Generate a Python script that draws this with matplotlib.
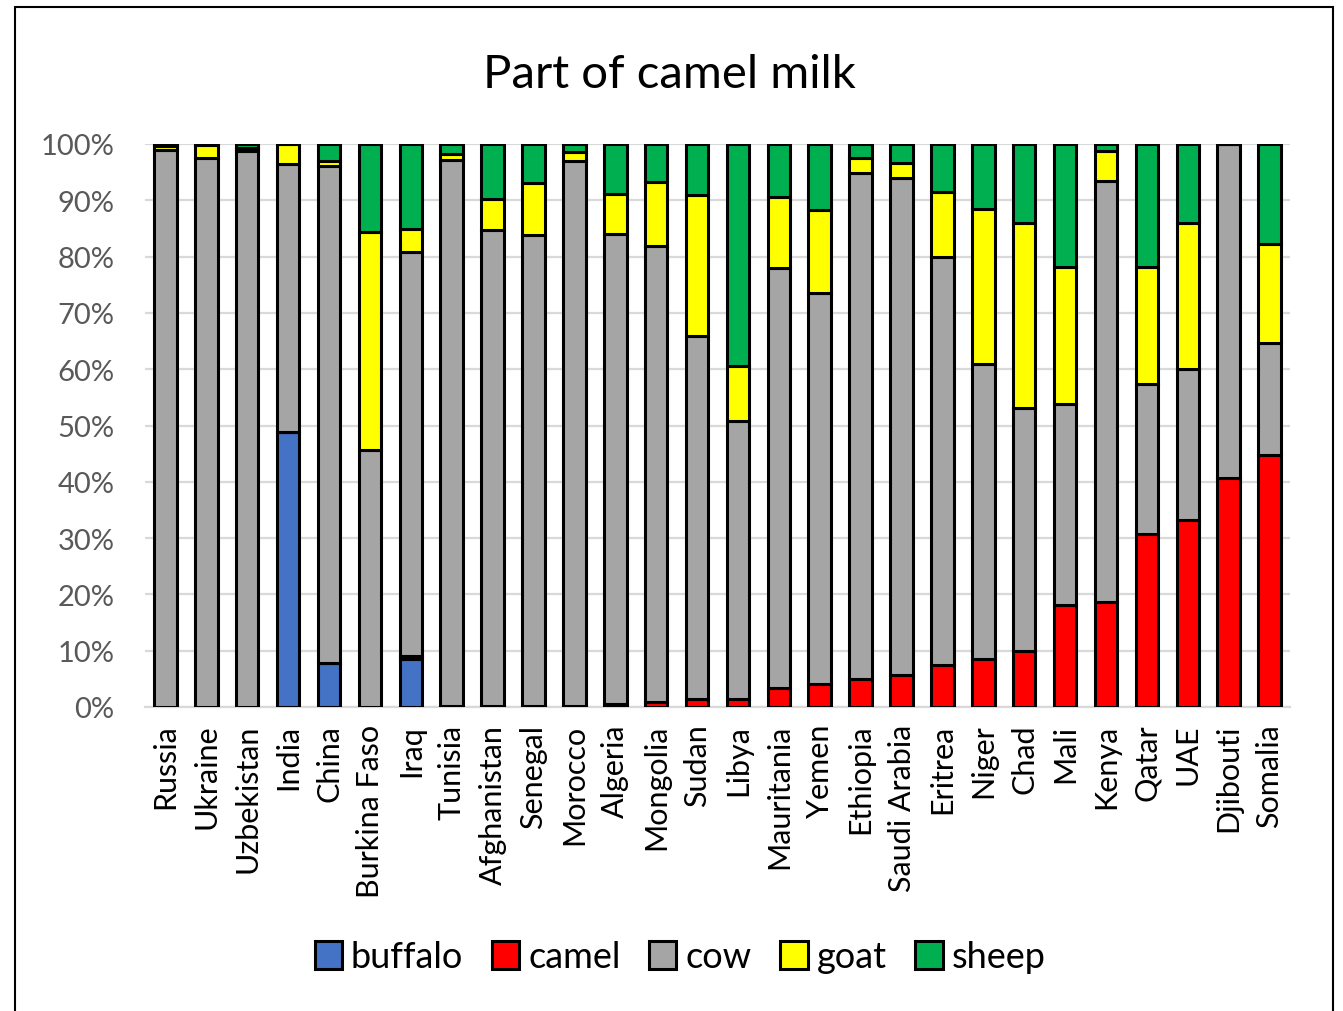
import numpy as np
import matplotlib.pyplot as plt
from matplotlib.patches import Rectangle

plt.rcParams['font.family'] = ['Lato', 'DejaVu Sans']

countries = ['Russia', 'Ukraine', 'Uzbekistan', 'India', 'China', 'Burkina Faso', 'Iraq',
             'Tunisia', 'Afghanistan', 'Senegal', 'Morocco', 'Algeria', 'Mongolia', 'Sudan',
             'Libya', 'Mauritania', 'Yemen', 'Ethiopia', 'Saudi Arabia', 'Eritrea', 'Niger',
             'Chad', 'Mali', 'Kenya', 'Qatar', 'UAE', 'Djibouti', 'Somalia']

buffalo = [0, 0, 0, 48.8, 7.8, 0, 8.6, 0, 0, 0, 0, 0, 0, 0,
           0, 0, 0, 0, 0, 0, 0, 0, 0, 0, 0, 0, 0, 0]
camel = [0, 0, 0, 0, 0.1, 0, 0.4, 0.1, 0.2, 0.2, 0.2, 0.5, 0.8, 1.5,
         1.4, 3.4, 4.0, 5.0, 5.6, 7.5, 8.5, 9.9, 18.1, 18.6, 30.7, 33.2, 40.7, 44.8]
cow = [99.0, 97.6, 98.8, 47.6, 88.2, 45.6, 71.9, 97.1, 84.6, 83.7, 96.8, 83.5, 81.1, 64.4,
       49.4, 74.5, 69.5, 89.8, 88.4, 72.4, 52.5, 43.2, 35.8, 74.9, 26.7, 26.8, 59.3, 19.9]
goat = [0.7, 2.2, 0.5, 3.6, 0.8, 38.8, 4.0, 1.0, 5.4, 9.2, 1.5, 7.2, 11.3, 25.0,
        9.8, 12.7, 14.8, 2.8, 2.7, 11.6, 27.5, 32.8, 24.3, 5.3, 20.8, 25.9, 0, 17.5]
sheep = [0.3, 0.2, 0.7, 0, 3.1, 15.6, 15.1, 1.8, 9.8, 6.9, 1.5, 8.8, 6.8, 9.1,
         39.4, 9.4, 11.7, 2.4, 3.3, 8.5, 11.5, 14.1, 21.8, 1.2, 21.8, 14.1, 0, 17.8]

series = [('buffalo', buffalo, '#4472C4'),
          ('camel', camel, '#FF0000'),
          ('cow', cow, '#A5A5A5'),
          ('goat', goat, '#FFFF00'),
          ('sheep', sheep, '#00B050')]

fig = plt.figure(figsize=(13.43, 10.12), dpi=100)
ax = fig.add_axes([145 / 1343, 1 - 708 / 1012, 1145 / 1343, 563 / 1012])

x = np.arange(len(countries))
bottom = np.zeros(len(countries))
for name, vals, col in series:
    vals = np.array(vals) / 100.0
    ax.bar(x, vals, 0.55, bottom=bottom, color=col, edgecolor='black',
           linewidth=2.2, label=name, zorder=3)
    bottom += vals

ax.set_xlim(-0.5, len(countries) - 0.5)
ax.set_ylim(0, 1.0)
ax.set_yticks(np.arange(0, 1.01, 0.1))
ax.set_yticklabels([f'{int(round(v * 100))}%' for v in np.arange(0, 1.01, 0.1)],
                   fontsize=21, color='#595959')
ax.set_xticks(x)
ax.set_xticklabels(countries, rotation=90, fontsize=22, color='black')
ax.tick_params(axis='x', length=0, pad=12)
ax.tick_params(axis='y', length=0, pad=22)
ax.grid(axis='y', color='#D9D9D9', linewidth=1.6, zorder=0)
for s in ['top', 'right', 'left']:
    ax.spines[s].set_visible(False)
ax.spines['bottom'].set_color('#D9D9D9')
ax.spines['bottom'].set_linewidth(1.6)

fig.text(669 / 1343, 1 - 75 / 1012, 'Part of camel milk', ha='center', va='center',
         fontsize=34, color='black')

leg = fig.legend(loc='center', bbox_to_anchor=(680 / 1343, 1 - 958 / 1012), ncol=5,
                 frameon=False, fontsize=26, handlelength=0.75, handleheight=0.8,
                 handletextpad=0.25, columnspacing=0.8)

fig.patches.append(Rectangle((15 / 1343, -0.01), 1318 / 1343, 1 - 8 / 1012 + 0.01,
                             transform=fig.transFigure, fill=False,
                             edgecolor='black', linewidth=1.5))

fig.savefig('out.png', dpi=100)
